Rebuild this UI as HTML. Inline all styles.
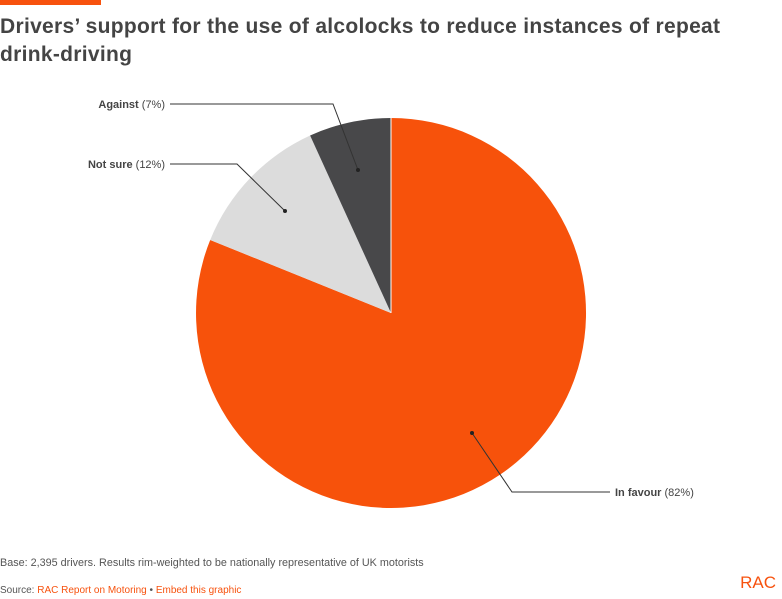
<!DOCTYPE html>
<html><head><meta charset="utf-8"><style>
body{margin:0;background:#fff;width:782px;height:599px;overflow:hidden;font-family:"Liberation Sans",sans-serif;position:relative}
.bar{position:absolute;left:0;top:0;width:101px;height:5px;background:#f7520e}
h1{position:absolute;left:0;top:13px;margin:0;font-size:21px;line-height:28px;color:#444;font-weight:bold;letter-spacing:0.3px}
.base{position:absolute;left:0;top:557px;font-size:10.8px;color:#555}
.src{position:absolute;left:0;top:585px;font-size:10px;color:#555}
.src span{color:#f7520e}
.rac{position:absolute;right:6px;top:573px;color:#f7520e;font-size:17px;letter-spacing:0px}
</style></head><body>
<div class="bar"></div>
<h1>Drivers’ support for the use of alcolocks to reduce instances of repeat<br>drink-driving</h1>
<svg width="782" height="599" style="position:absolute;left:0;top:0">
<path d="M391,313 L391,118 A195,195 0 1 1 210.2,240 Z" fill="#f7520b"/>
<path d="M391,313 L210.2,240 A195,195 0 0 1 310.1,135.5 Z" fill="#dcdcdc"/>
<path d="M391,313 L310.1,135.5 A195,195 0 0 1 391,118 Z" fill="#48484a"/>
<line x1="391" y1="118" x2="391" y2="313" stroke="#fff" stroke-width="1"/>
<g fill="none" stroke="#333" stroke-width="1">
<polyline points="170,104 333,104 358,170"/>
<polyline points="170,164 237,164 285,211"/>
<polyline points="610,492 512,492 472,433"/>
</g>
<circle cx="358" cy="170" r="2" fill="#222"/>
<circle cx="285" cy="211" r="2" fill="#222"/>
<circle cx="472" cy="433" r="2" fill="#222"/>
<g font-family="Liberation Sans,sans-serif" font-size="11" fill="#444">
<text x="165" y="108" text-anchor="end"><tspan font-weight="bold">Against</tspan> (7%)</text>
<text x="165" y="168" text-anchor="end"><tspan font-weight="bold">Not sure</tspan> (12%)</text>
<text x="615" y="496"><tspan font-weight="bold">In favour</tspan> (82%)</text>
</g>
</svg>
<div class="base">Base: 2,395 drivers. Results rim-weighted to be nationally representative of UK motorists</div>
<div class="src">Source: <span>RAC Report on Motoring</span> • <span>Embed this graphic</span></div>
<div class="rac">RAC</div>
</body></html>
